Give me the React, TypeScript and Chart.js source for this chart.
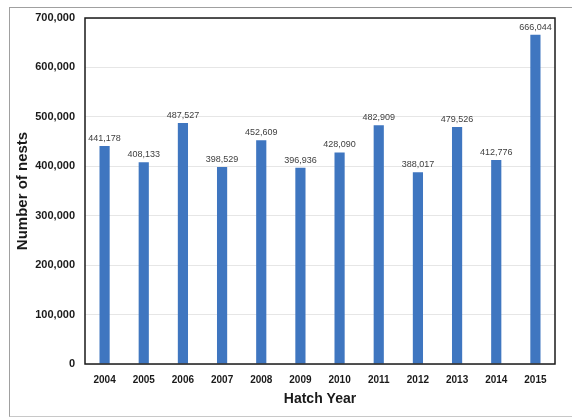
import React, { useEffect, useRef } from "react";
import { Chart, registerables } from "chart.js";

Chart.register(...registerables);

const years = ["2004", "2005", "2006", "2007", "2008", "2009", "2010", "2011", "2012", "2013", "2014", "2015"];
const nests = [441178, 408133, 487527, 398529, 452609, 396936, 428090, 482909, 388017, 479526, 412776, 666044];
const yTicks = [0, 100000, 200000, 300000, 400000, 500000, 600000, 700000];

const FONT = "'Liberation Sans', Arial, sans-serif";

const fmt = (v: number) => v.toLocaleString("en-US");

const labelsPlugin = {
  id: "barLabels",
  afterDatasetsDraw(chart: any) {
    const ctx = chart.ctx;
    const meta = chart.getDatasetMeta(0);
    ctx.save();
    ctx.font = `9px ${FONT}`;
    ctx.fillStyle = "#404040";
    ctx.textAlign = "center";
    ctx.textBaseline = "bottom";
    meta.data.forEach((bar: any, i: number) => {
      ctx.fillText(fmt(nests[i]), bar.x, bar.y - 3);
    });
    ctx.restore();
  },
};

const framePlugin = {
  id: "plotFrame",
  afterDraw(chart: any) {
    const { ctx, chartArea } = chart;
    ctx.save();
    ctx.strokeStyle = "#1a1a1a";
    ctx.lineWidth = 1.5;
    ctx.strokeRect(chartArea.left, chartArea.top, chartArea.right - chartArea.left, chartArea.bottom - chartArea.top);
    ctx.restore();
  },
};

export default function App() {
  const ref = useRef<HTMLCanvasElement>(null);
  useEffect(() => {
    if (!ref.current) return;
    const chart = new Chart(ref.current, {
      type: "bar",
      data: {
        labels: years,
        datasets: [
          {
            data: nests,
            backgroundColor: "#3f76c0",
            borderWidth: 0,
            barPercentage: 0.26,
            categoryPercentage: 1,
          },
        ],
      },
      options: {
        animation: false,
        responsive: false,
        devicePixelRatio: 1,
        layout: { padding: { left: 0, right: 17, top: 18, bottom: 10 } },
        plugins: { legend: { display: false }, tooltip: { enabled: false } },
        scales: {
          x: {
            grid: { display: false, drawTicks: false },
            border: { display: false },
            ticks: { color: "#1a1a1a", font: { family: FONT, size: 10, weight: "bold" }, padding: 10 },
            title: {
              display: true,
              text: "Hatch Year",
              color: "#1a1a1a",
              font: { family: FONT, size: 14, weight: "bold" },
              padding: { top: 0, bottom: 1 },
            },
            afterFit(scale: any) {
              scale.height = 45;
            },
          },
          y: {
            min: 0,
            max: 700000,
            afterBuildTicks(scale: any) {
              scale.ticks = yTicks.map((v) => ({ value: v }));
            },
            grid: { color: "#e6e6e6", drawTicks: false, lineWidth: 1 },
            border: { display: false },
            ticks: {
              color: "#1a1a1a",
              font: { family: FONT, size: 11, weight: "bold" },
              padding: 10,
              callback: (v: any) => fmt(Number(v)),
            },
            title: {
              display: true,
              text: "Number of nests",
              color: "#1a1a1a",
              font: { family: FONT, size: 15, weight: "bold" },
              padding: { top: 14, bottom: 0 },
            },
            afterFit(scale: any) {
              scale.width = 85;
            },
          },
        },
      },
      plugins: [labelsPlugin, framePlugin],
    } as any);
    return () => chart.destroy();
  }, []);
  return (
    <div style={{ position: "fixed", left: 0, top: 0, width: 572, height: 419, background: "#fff" }}>
      <div
        style={{
          position: "absolute",
          left: 9,
          top: 7,
          width: 563,
          height: 408,
          borderLeft: "1px solid #a0a0a0",
          borderTop: "1px solid #a0a0a0",
          borderBottom: "1px solid #c8c8c8",
        }}
      />
      <canvas ref={ref} width={572} height={419} style={{ position: "absolute", left: 0, top: 0 }} />
    </div>
  );
}
